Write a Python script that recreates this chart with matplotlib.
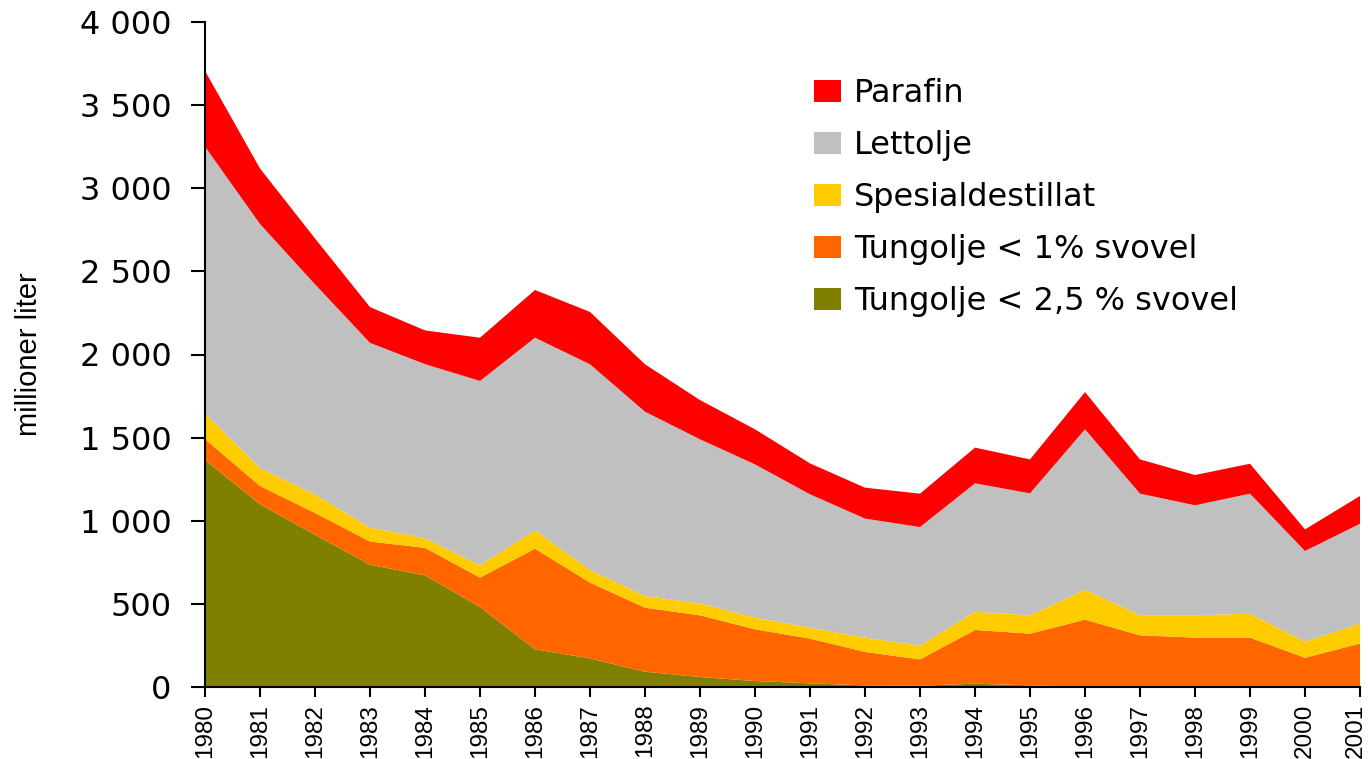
import matplotlib
matplotlib.use("Agg")
import matplotlib.pyplot as plt
import matplotlib.transforms as mtransforms
from matplotlib.patches import Patch
from matplotlib.ticker import FuncFormatter

years = list(range(1980, 2002))
tungolje_25 = [1366, 1099, 916, 735, 672, 481, 227, 172, 92, 60, 36, 22, 10, 8, 20, 10, 2, 2, 2, 2, 2, 3]
tungolje_1 = [125, 110, 131, 140, 165, 177, 605, 456, 385, 371, 311, 269, 201, 158, 323, 311, 403, 309, 295, 295, 174, 258]
spesialdestillat = [154, 108, 110, 84, 58, 74, 110, 76, 70, 72, 70, 66, 86, 83, 110, 110, 180, 120, 134, 144, 97, 120]
lettolje = [1605, 1468, 1265, 1111, 1047, 1109, 1159, 1237, 1109, 987, 922, 802, 716, 713, 772, 734, 965, 732, 662, 722, 545, 601]
parafin = [456, 334, 276, 215, 203, 260, 287, 315, 285, 236, 211, 186, 186, 201, 215, 204, 224, 206, 182, 180, 130, 167]

labels = ["Tungolje < 2,5 % svovel", "Tungolje < 1% svovel", "Spesialdestillat", "Lettolje", "Parafin"]
colors = ["#808000", "#FF6600", "#FFCC00", "#C0C0C0", "#FF0000"]
y_ticks = [0, 500, 1000, 1500, 2000, 2500, 3000, 3500, 4000]

fig = plt.figure(figsize=(13.68, 7.59), dpi=100)
ax = fig.add_axes([205/1368, 1 - 687/759, (1360 - 205)/1368, (687 - 22)/759])

ax.stackplot(years, tungolje_25, tungolje_1, spesialdestillat, lettolje, parafin,
             colors=colors, linewidth=0)

ax.set_xlim(1980, 2001)
ax.set_ylim(0, 4000)
ax.spines["top"].set_visible(False)
ax.spines["right"].set_visible(False)
ax.spines["left"].set_linewidth(1.5)
ax.spines["bottom"].set_linewidth(1.5)

ax.set_yticks(y_ticks)
ax.yaxis.set_major_formatter(FuncFormatter(lambda v, p: f"{int(v):,}".replace(",", " ")))
ax.set_xticks(years)
ax.set_xticklabels([str(y) for y in years], rotation=90, fontsize=17.5,
                   family="Liberation Sans")
for t in ax.get_yticklabels():
    t.set_fontsize(23)
    t.set_family("DejaVu Sans")
ax.tick_params(axis="y", direction="out", length=10, width=1.5, pad=14)
ax.tick_params(axis="x", direction="out", length=7, width=1.5, pad=5)

# keep the last year label inside the canvas
last = ax.get_xticklabels()[-1]
last.set_transform(last.get_transform() +
                   mtransforms.ScaledTranslation(-4/100, 0, fig.dpi_scale_trans))

fig.text(29/1368, 1 - 354/759, "millioner liter", rotation=90, fontsize=21,
         family="Liberation Sans", ha="center", va="center")

handles = [Patch(facecolor=c, edgecolor="none") for c in colors]
leg = fig.legend(handles[::-1], labels[::-1], loc="upper left",
                 bbox_to_anchor=(814/1368, 1 - 78/759), frameon=False,
                 prop={"family": "DejaVu Sans", "size": 23},
                 handlelength=0.85, handleheight=0.7, handletextpad=0.4,
                 labelspacing=0.66, borderpad=0, borderaxespad=0)

fig.savefig("out.png", dpi=100)
